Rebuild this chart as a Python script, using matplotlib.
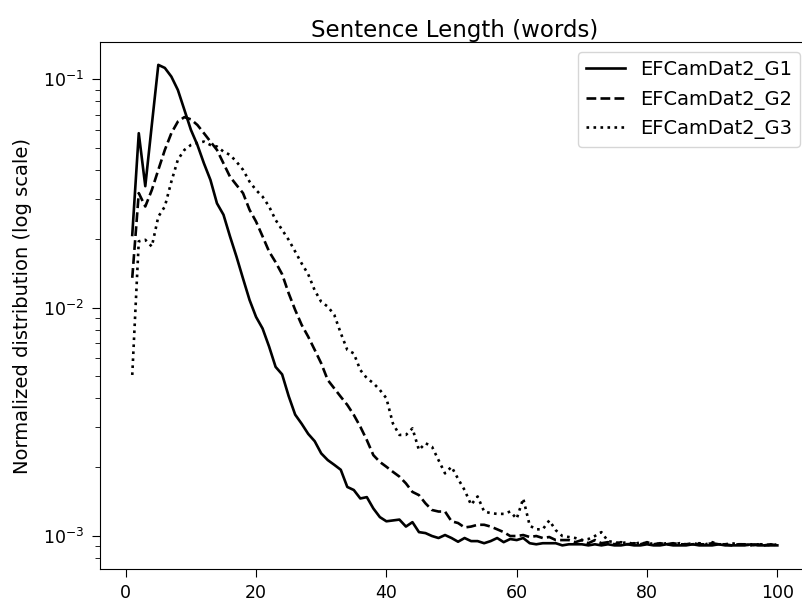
import matplotlib
matplotlib.use("Agg")
import matplotlib.pyplot as plt
import numpy as np

words = np.arange(1, 101)

g1 = [0.0208, 0.058, 0.034, 0.063, 0.1155, 0.112, 0.1026, 0.0897, 0.0734, 0.060,
      0.0515, 0.0428, 0.0362, 0.0286, 0.0255, 0.0205, 0.0167, 0.0134, 0.0108, 0.0091,
      0.0081, 0.00675, 0.0055, 0.0051, 0.0041, 0.0034, 0.0031, 0.0028, 0.0026, 0.0023,
      0.00215, 0.00205, 0.00195, 0.00164, 0.00159, 0.00146, 0.00148, 0.00132, 0.00121, 0.00116,
      0.00117, 0.00118, 0.0011, 0.00115, 0.00104, 0.00103, 0.0010, 0.00098, 0.00101, 0.00098,
      0.000944, 0.00098, 0.00095, 0.00095, 0.00093, 0.00095, 0.00098, 0.00094, 0.00097, 0.00096,
      0.00098, 0.00093, 0.00092, 0.00093, 0.00093, 0.00093, 0.00091, 0.00092, 0.00092, 0.00092,
      0.00091, 0.00092, 0.00091, 0.00092, 0.00091, 0.00091, 0.00092, 0.00091, 0.00091, 0.00092,
      0.00091, 0.00091, 0.00092, 0.00091, 0.00091, 0.00091, 0.00092, 0.00091, 0.00091, 0.00091,
      0.00092, 0.00091, 0.00091, 0.00091, 0.00091, 0.00092, 0.00091, 0.00091, 0.00091, 0.00091]

g2 = [0.0135, 0.0317, 0.0277, 0.0327, 0.0401, 0.049, 0.058, 0.0652, 0.0682, 0.0667,
      0.063, 0.058, 0.0533, 0.049, 0.0428, 0.0374, 0.0344, 0.0317, 0.0268, 0.0238,
      0.0205, 0.0176, 0.0158, 0.0140, 0.01156, 0.00977, 0.0084, 0.00746, 0.00653, 0.0057,
      0.00482, 0.00443, 0.00407, 0.00375, 0.00339, 0.00301, 0.00263, 0.00226, 0.00211, 0.00201,
      0.00191, 0.00182, 0.0017, 0.00156, 0.00151, 0.00139, 0.0013, 0.00128, 0.00128, 0.00116,
      0.00114, 0.00109, 0.0011, 0.00112, 0.00112, 0.0011, 0.00107, 0.00104, 0.0010, 0.0010,
      0.00101, 0.00099, 0.0010, 0.00098, 0.00099, 0.00096, 0.00096, 0.00096, 0.00094, 0.00096,
      0.00093, 0.00096, 0.00093, 0.00094, 0.00092, 0.00094, 0.00092, 0.00093, 0.00092, 0.00094,
      0.00092, 0.00093, 0.00092, 0.00093, 0.00092, 0.00092, 0.00093, 0.00092, 0.00092, 0.00093,
      0.00092, 0.00092, 0.00091, 0.00092, 0.00092, 0.00091, 0.00092, 0.00091, 0.00092, 0.00091]

g3 = [0.00507, 0.0195, 0.0198, 0.0185, 0.025, 0.0277, 0.0356, 0.0444, 0.049, 0.0515,
      0.0525, 0.0533, 0.0515, 0.0507, 0.0482, 0.0466, 0.0435, 0.0401, 0.0356, 0.0327,
      0.0306, 0.0277, 0.0242, 0.0219, 0.0198, 0.0176, 0.0156, 0.0140, 0.0119, 0.0106,
      0.0101, 0.0093, 0.00773, 0.00653, 0.0063, 0.00533, 0.00491, 0.00467, 0.00436, 0.00401,
      0.00311, 0.00277, 0.00277, 0.00296, 0.00238, 0.00255, 0.00246, 0.00215, 0.00188, 0.00201,
      0.00178, 0.00159, 0.00137, 0.00149, 0.00128, 0.00126, 0.00125, 0.00125, 0.00128, 0.00119,
      0.00146, 0.00111, 0.00107, 0.00107, 0.00117, 0.00106, 0.0010, 0.00099, 0.00098, 0.00096,
      0.00097, 0.0010, 0.00104, 0.00095, 0.00094, 0.00093, 0.00094, 0.00092, 0.00094, 0.00092,
      0.00093, 0.00092, 0.00093, 0.00092, 0.00093, 0.00092, 0.00092, 0.00093, 0.00092, 0.00094,
      0.00092, 0.00092, 0.00093, 0.00092, 0.00092, 0.00091, 0.00092, 0.00092, 0.00091, 0.00092]

plt.rcParams['font.size'] = 14

fig = plt.figure(figsize=(8.02, 6.01), dpi=100)
# axes runs past the right edge of the picture (the reference is cropped there)
ax = fig.add_axes([100 / 802, 1 - 569.3 / 601, 709.6 / 802, 527 / 601])

ax.plot(words, g1, 'k-', lw=1.9, label='EFCamDat2_G1')
ax.plot(words, g2, 'k--', lw=1.9, label='EFCamDat2_G2')
ax.plot(words, g3, 'k:', lw=1.9, label='EFCamDat2_G3')

ax.set_yscale('log')
ax.set_xlim(-3.95, 104.95)
ax.set_ylim(7.15e-4, 0.145)
ax.set_xticks([0, 20, 40, 60, 80, 100])
ax.tick_params(axis='both', which='major', labelsize=12.5, length=5.5)
ax.tick_params(axis='both', which='minor', length=3.5)
ax.tick_params(axis='x', pad=5)
ax.tick_params(axis='y', pad=6)
ax.spines['right'].set_visible(False)
ax.set_title('Sentence Length (words)', fontsize=16.5, pad=4)
ax.set_ylabel('Normalized distribution (log scale)', fontsize=14, labelpad=8)
ax.legend(loc='upper right', fontsize=14, borderaxespad=0.5)

fig.savefig('out.png', dpi=100)
